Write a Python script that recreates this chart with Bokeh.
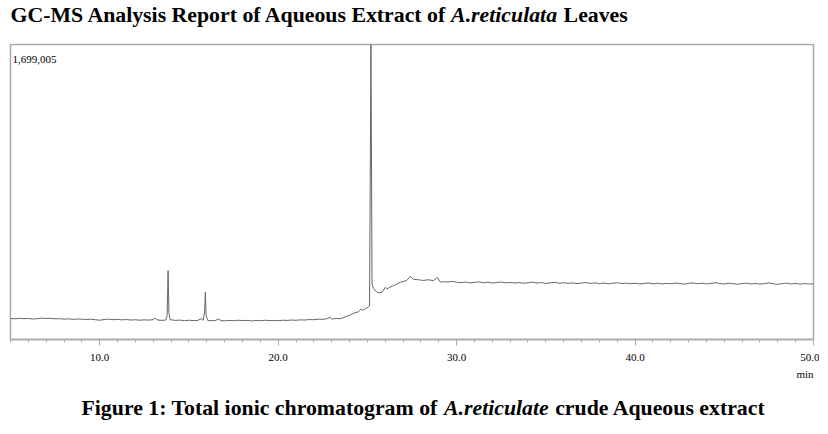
from bokeh.plotting import figure
from bokeh.models import Range1d, FixedTicker, Label
from bokeh.layouts import column
from bokeh.embed import file_html
from bokeh.resources import INLINE

# Retention time (min) and total ion count
rt_min = [5.00, 5.25, 5.50, 5.75, 6.00, 6.25, 6.50, 6.75, 7.00, 7.25, 7.50, 7.75,
          8.00, 8.25, 8.50, 8.75, 9.00, 9.25, 9.50, 9.75, 10.00, 10.25, 10.50, 10.75,
          11.00, 11.25, 11.50, 11.75, 12.00, 12.25, 12.50, 12.75, 13.00, 13.10, 13.20,
          13.50, 13.70, 13.78, 13.83, 13.88, 13.95, 14.25, 14.50, 14.75, 15.00, 15.25,
          15.50, 15.68, 15.80, 15.88, 15.92, 15.96, 16.05, 16.25, 16.50, 16.65, 16.80,
          17.00, 17.25, 17.50, 17.75, 18.00, 18.25, 18.50, 18.75, 19.00, 19.25, 19.50,
          19.75, 20.00, 20.25, 20.50, 20.75, 21.00, 21.25, 21.50, 21.75, 22.00, 22.25,
          22.50, 22.75, 22.90, 23.00, 23.25, 23.50, 23.75, 24.00, 24.25, 24.50, 24.65,
          24.75, 24.90, 25.05, 25.12, 25.20, 25.26, 25.34, 25.45, 25.56, 25.70, 25.84,
          26.01, 26.10, 26.25, 26.46, 26.65, 26.85, 27.00, 27.20, 27.41, 27.58, 27.80,
          28.00, 28.14, 28.40, 28.70, 28.92, 29.09, 29.30, 29.50, 29.75, 30.00, 30.25,
          30.50, 30.75, 31.00, 31.25, 31.50, 31.75, 32.00, 32.25, 32.50, 32.75, 33.00,
          33.25, 33.50, 33.75, 34.00, 34.25, 34.50, 34.75, 35.00, 35.25, 35.50, 35.75,
          36.00, 36.25, 36.50, 36.75, 37.00, 37.25, 37.50, 37.75, 38.00, 38.25, 38.50,
          38.75, 39.00, 39.25, 39.50, 39.75, 40.00, 40.25, 40.50, 40.75, 41.00, 41.25,
          41.50, 41.75, 42.00, 42.25, 42.50, 42.75, 43.00, 43.25, 43.50, 43.75, 44.00,
          44.25, 44.50, 44.75, 45.00, 45.25, 45.50, 45.75, 46.00, 46.25, 46.50, 46.75,
          47.00, 47.25, 47.50, 47.75, 48.00, 48.25, 48.50, 48.75, 49.00, 49.25, 49.50,
          49.75, 50.00]

tic = [121000, 119000, 122000, 120000, 121000, 118000, 120000, 123000, 121000, 122000,
       119000, 120000, 117000, 119000, 116000, 118000, 117000, 115000, 117000, 114000,
       111000, 115000, 117000, 114000, 116000, 113000, 115000, 112000, 114000, 111000,
       113000, 112000, 114000, 124000, 113000,
       110000, 112000, 140000, 397000, 150000, 114000, 110000, 112000, 108000, 111000,
       109000, 110000, 120000, 111000, 160000, 272000, 140000, 110000, 108000, 110000,
       118000, 109000, 107000, 110000, 108000, 111000, 109000, 110000, 107000, 110000,
       108000, 111000, 109000, 110000, 108000, 111000, 110000, 112000, 111000, 113000,
       112000, 115000, 114000, 117000, 116000, 120000, 128000, 118000, 121000, 120000,
       130000, 140000, 152000, 160000, 176000, 168000, 178000, 186000, 195000, 1699005,
       320000, 294000, 280000, 272000, 268000, 274000, 301000, 292000, 300000, 311000,
       318000, 330000, 334000, 340000, 363000, 346000, 345000, 342000, 340000, 344000,
       339000, 357000, 330000, 333000, 331000, 335000, 330000, 327000, 331000, 326000,
       329000, 332000, 327000, 330000, 325000, 328000, 331000, 326000, 329000, 325000,
       328000, 324000, 327000, 330000, 325000, 328000, 323000, 326000, 329000, 324000,
       327000, 323000, 326000, 322000, 325000, 328000, 323000, 326000, 322000, 325000,
       321000, 324000, 327000, 322000, 325000, 321000, 324000, 320000, 323000, 326000,
       321000, 324000, 320000, 323000, 321000, 325000, 322000, 319000, 323000, 326000,
       321000, 324000, 320000, 323000, 327000, 322000, 320000, 324000, 321000, 318000,
       322000, 325000, 320000, 323000, 319000, 322000, 326000, 321000, 318000, 322000,
       325000, 320000, 323000, 319000, 322000, 320000, 321000]

major_ticks = [10, 20, 30, 40, 50]
minor_ticks = list(range(5, 51))
max_label = "1,699,005"
x_unit = "min"
title_parts = ["GC-MS Analysis Report of Aqueous Extract of", "A.reticulata", "Leaves"]
caption_parts = ["Figure 1: Total ionic chromatogram of", "A.reticulate", "crude Aqueous extract"]

SERIF = "Liberation Serif"
FS = "21.8px"
W = 828


def text_strip(height):
    f = figure(width=W, height=height, output_backend="svg", toolbar_location=None,
               x_range=Range1d(0, 1), y_range=Range1d(0, 1),
               x_axis_location=None, y_axis_location=None,
               min_border=0, min_border_left=0, min_border_right=0,
               min_border_top=0, min_border_bottom=0)
    f.outline_line_color = None
    f.xgrid.visible = False
    f.ygrid.visible = False
    return f


def lab(fig, x, y, text, size, style="normal", align="left"):
    fig.add_layout(Label(x=x, y=y, x_units="screen", y_units="screen", text=text,
                         text_font=SERIF, text_font_size=size, text_font_style=style,
                         text_color="black", text_align=align,
                         text_baseline="alphabetic"))


# --- title strip (page y 0..43)
top = text_strip(43)
TY = 28.7
lab(top, 0, TY, title_parts[0], FS, "bold")
lab(top, 440.6, TY, title_parts[1], FS, "bold italic")
lab(top, 553.1, TY, title_parts[2], FS, "bold")

# --- chromatogram (page y 43..364), right edge trimmed like the source image
p = figure(width=819, height=321, output_backend="svg", toolbar_location=None,
           x_range=Range1d(5, 50), y_range=Range1d(0, 1699005),
           y_axis_location=None, min_border_left=10, min_border_right=6,
           min_border_top=1, min_border_bottom=25,
           background_fill_color="white", border_fill_color="white")
p.outline_line_color = "#a8a8a8"
p.outline_line_width = 1.5
p.xgrid.visible = False
p.ygrid.visible = False

p.line(rt_min, tic, line_color="#666666", line_width=1)

ax = p.xaxis[0]
ax.ticker = FixedTicker(ticks=major_ticks, minor_ticks=minor_ticks)
ax.major_label_overrides = {t: f"{t:.1f}" for t in major_ticks}
ax.axis_line_color = "#a8a8a8"
ax.axis_line_width = 1.5
ax.major_tick_line_color = "#a8a8a8"
ax.minor_tick_line_color = "#a8a8a8"
ax.major_tick_in = 0
ax.major_tick_out = 6
ax.minor_tick_in = 0
ax.minor_tick_out = 3
ax.major_label_standoff = 8
ax.major_label_text_font = SERIF
ax.major_label_text_font_size = "11px"
ax.major_label_text_color = "black"

lab(p, 2, 280, max_label, "11px")

# --- bottom strip (page y 364..434)
bot = text_strip(70)
CY = 27
lab(bot, 803, 61, x_unit, "11px", align="right")
lab(bot, 71, CY, caption_parts[0], FS, "bold")
lab(bot, 71 + 362.5, CY, caption_parts[1], FS, "bold italic")
lab(bot, 71 + 473.7, CY, caption_parts[2], FS, "bold")

layout = column(top, p, bot, spacing=0)
open("out.html", "w").write(file_html(layout, INLINE))
